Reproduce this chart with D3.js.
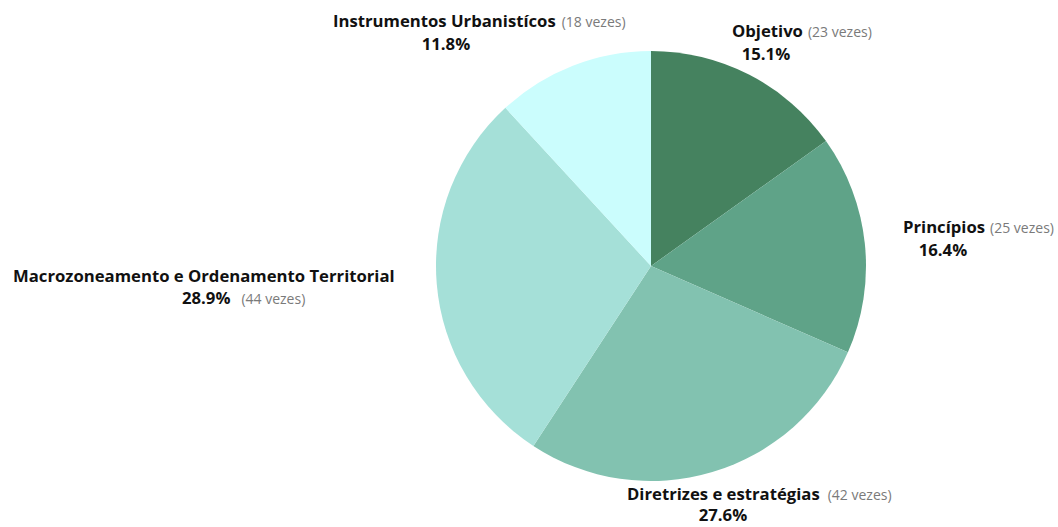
<!DOCTYPE html>
<html>
<head>
<meta charset="utf-8">
<script src="https://cdn.jsdelivr.net/npm/d3@7"></script>
<style>
  body { margin: 0; background: #fff; }
  text { font-family: "Open Sans", sans-serif; }
</style>
</head>
<body>
<svg id="chart" width="1058" height="527"></svg>
<script>
// data
const categories = ['Objetivo', 'Princípios', 'Diretrizes e estratégias', 'Macrozoneamento e Ordenamento Territorial', 'Instrumentos Urbanistícos'];
const counts = [23, 25, 42, 44, 18];
const colors = ['#45825f', '#5fa388', '#82c2b0', '#a5e0d8', '#cbfdfd'];

const width = 1058;
const height = 527;
const cx = 651, cy = 266, radius = 215;

const svg = d3.select('#chart');
const total = d3.sum(counts);
const fmt = d3.format('.1f');

const pie = d3.pie().sort(null).value(d => d.count);
const arc = d3.arc().innerRadius(0).outerRadius(radius);

const data = categories.map((c, i) => ({ name: c, count: counts[i], color: colors[i] }));

const g = svg.append('g').attr('transform', `translate(${cx},${cy})`);

g.selectAll('path')
  .data(pie(data))
  .enter().append('path')
  .attr('d', arc)
  .attr('fill', d => d.data.color);

// label layout (name start, percent centre)
const labelPos = [
  { x: 732, y: 37, px: 766, py: 60, gap: 5 },
  { x: 903, y: 233, px: 943, py: 256, gap: 5 },
  { x: 627, y: 500, px: 723, py: 521, gap: 8 },
  { x: 13, y: 282, px: 182, py: 304, countWithPct: true, gap: 11 },
  { x: 333, y: 27, px: 446, py: 50, gap: 6 }
];

const boldSize = 16.7, countSize = 14;

data.forEach((d, i) => {
  const p = labelPos[i];
  const pct = fmt(d.count / total * 100) + '%';
  const name = svg.append('text')
    .attr('x', p.x).attr('y', p.y)
    .attr('font-size', boldSize).attr('fill', '#111');
  name.append('tspan').attr('font-weight', 700).text(d.name);
  if (!p.countWithPct) {
    name.append('tspan').attr('font-size', countSize).attr('fill', '#7a7a7a').attr('dx', p.gap)
      .text(`(${d.count} vezes)`);
  }
  const pt = svg.append('text')
    .attr('x', p.px).attr('y', p.py)
    .attr('font-size', boldSize).attr('fill', '#111');
  if (p.countWithPct) {
    pt.append('tspan').attr('font-weight', 700).text(pct);
    pt.append('tspan').attr('font-size', countSize).attr('fill', '#7a7a7a').attr('dx', p.gap)
      .text(`(${d.count} vezes)`);
  } else {
    pt.attr('text-anchor', 'middle').attr('font-weight', 700).text(pct);
  }
});
</script>
</body>
</html>
